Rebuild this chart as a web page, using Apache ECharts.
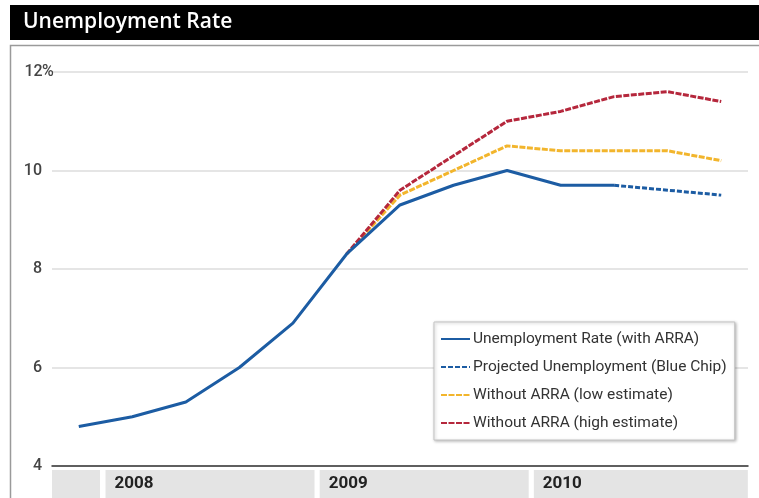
<!DOCTYPE html>
<html>
<head>
<meta charset="utf-8">
<script src="https://cdn.jsdelivr.net/npm/echarts@6/dist/echarts.min.js"></script>
<style>
html,body{margin:0;padding:0;background:#fff;}
#c{width:759px;height:498px;}
</style>
</head>
<body>
<div id="c"></div>
<script>
// Quarters from Q4 2007 through Q4 2010
var quarters = ['2007Q4','2008Q1','2008Q2','2008Q3','2008Q4','2009Q1','2009Q2','2009Q3','2009Q4','2010Q1','2010Q2','2010Q3','2010Q4'];
// Quarter boundaries (tick positions) and year band labels
var boundaries = ['b0','b1','b2','b3','b4','b5','b6','b7','b8','b9','b10','b11','b12','b13'];
var yearLabels = ['', '2008', '', '', '', '2009', '', '', '', '2010', '', '', '', ''];
var yTicks = [4, 6, 8, 10, 12];

var withArra   = [4.8, 5.0, 5.3, 6.0, 6.9, 8.3, 9.3, 9.7, 10.0, 9.7, 9.7, null, null];
var projected  = [null, null, null, null, null, null, null, null, null, null, 9.7, 9.6, 9.5];
var lowEst     = [null, null, null, null, null, 8.3, 9.5, 10.0, 10.5, 10.4, 10.4, 10.4, 10.2];
var highEst    = [null, null, null, null, null, 8.3, 9.6, 10.3, 11.0, 11.2, 11.5, 11.6, 11.4];

var names = ['Unemployment Rate (with ARRA)', 'Projected Unemployment (Blue Chip)', 'Without ARRA (low estimate)', 'Without ARRA (high estimate)'];

var BLUE = '#1c5ca3', YELLOW = '#f2b52c', RED = '#b5273c';
var NARROW = 'Roboto, sans-serif';

var chart = echarts.init(document.getElementById('c'), null, {renderer: 'canvas'});
chart.setOption({
  animation: false,
  backgroundColor: '#fff',
  graphic: [
    {type: 'rect', shape: {x: 10, y: 5, width: 760, height: 35}, style: {fill: '#000'}, z: 0},
    {type: 'polyline', shape: {points: [[10.5, 498], [10.5, 45.5], [759, 45.5]]}, style: {stroke: '#9a9a9a', lineWidth: 1.5, fill: null}, z: 0}
  ],
  title: {
    text: 'Unemployment Rate',
    left: 18, top: 7,
    textStyle: {color: '#fff', fontSize: 21, fontWeight: 600, fontFamily: '"Open Sans", sans-serif'}
  },
  grid: {left: 52, right: 11, top: 72, bottom: 32},
  legend: {
    orient: 'vertical',
    left: 434, top: 322,
    padding: [7, 8, 7, 6],
    itemGap: 8,
    itemWidth: 29, itemHeight: 14,
    backgroundColor: '#fff',
    borderColor: '#c4c4c4', borderWidth: 1,
    shadowColor: 'rgba(0,0,0,0.25)', shadowBlur: 3, shadowOffsetX: 1, shadowOffsetY: 1,
    itemStyle: {opacity: 0},
    data: names,
    textStyle: {fontSize: 15.5, lineHeight: 20, color: '#333', fontFamily: NARROW, padding: [0, 0, 0, -2]}
  },
  xAxis: [
    {
      type: 'category', data: quarters, boundaryGap: true,
      axisLine: {lineStyle: {color: '#333', width: 1.5}},
      axisTick: {inside: true, length: 11, lineStyle: {color: '#333', width: 1.5}},
      axisLabel: {show: false},
      splitLine: {show: false}
    },
    {
      type: 'category', data: boundaries, boundaryGap: false, position: 'bottom',
      axisLine: {show: false}, axisTick: {show: false}, splitLine: {show: false},
      axisLabel: {
        interval: 0, margin: 4, align: 'left', verticalAlign: 'top',
        formatter: function (v, i) {
          if (i === 0) return '{e| }';
          var t = yearLabels[i];
          if (!t) return '';
          return i === 9 ? '{z|' + t + '}' : '{y|' + t + '}';
        },
        rich: {
          e: {width: 48, height: 28, backgroundColor: '#e4e4e4', padding: [0, 0, 0, 0]},
          y: {width: 200, height: 28, lineHeight: 28, padding: [0, 0, 0, 9], backgroundColor: '#e4e4e4',
              fontSize: 17, fontWeight: 'bold', color: '#222', fontFamily: NARROW},
          z: {width: 205, height: 28, lineHeight: 28, padding: [0, 0, 0, 9], backgroundColor: '#e4e4e4',
              fontSize: 17, fontWeight: 'bold', color: '#222', fontFamily: NARROW}
        }
      }
    }
  ],
  yAxis: {
    type: 'value', min: yTicks[0], max: yTicks[yTicks.length - 1], interval: 2,
    axisLine: {show: false}, axisTick: {show: false},
    splitLine: {lineStyle: {color: '#dcdcdc', width: 1.5}},
    axisLabel: {
      align: 'left', margin: 27,
      formatter: function (v) {
        return v === 12 ? '{v|' + v + '}{p|%}' : '{v|' + v + '}';
      },
      rich: {
        v: {width: 17, align: 'right', fontSize: 16, fontWeight: 500, color: '#444', fontFamily: NARROW},
        p: {fontSize: 16, fontWeight: 500, color: '#444', fontFamily: NARROW}
      }
    }
  },
  series: [
    {name: names[2], type: 'line', data: lowEst, symbol: 'none', xAxisIndex: 0,
     lineStyle: {color: YELLOW, width: 3, type: [6, 1.5]}, itemStyle: {color: YELLOW}},
    {name: names[3], type: 'line', data: highEst, symbol: 'none', xAxisIndex: 0,
     lineStyle: {color: RED, width: 3, type: [6, 1.5]}, itemStyle: {color: RED}},
    {name: names[1], type: 'line', data: projected, symbol: 'none', xAxisIndex: 0,
     lineStyle: {color: BLUE, width: 3, type: [5, 2]}, itemStyle: {color: BLUE}},
    {name: names[0], type: 'line', data: withArra, symbol: 'none', xAxisIndex: 0,
     lineStyle: {color: BLUE, width: 3}, itemStyle: {color: BLUE}}
  ]
});
</script>
</body>
</html>
